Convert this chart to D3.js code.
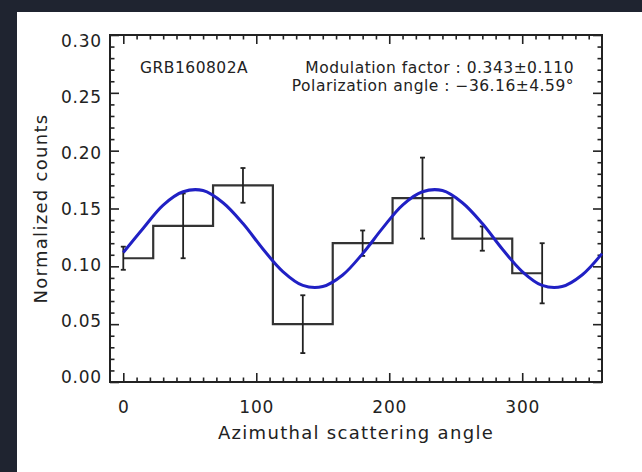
<!DOCTYPE html>
<html>
<head>
<meta charset="utf-8">
<script src="https://cdn.jsdelivr.net/npm/d3@7"></script>
<style>
  html, body { margin: 0; padding: 0; background: #1f2430; }
  svg { display: block; }
  text { font-family: "DejaVu Sans", sans-serif; fill: #222; }
</style>
</head>
<body>
<svg id="chart" width="642" height="472"></svg>
<script>
// ---- data ----
const angles = [0, 45, 90, 135, 180, 225, 270, 315];
const counts = [0.107, 0.135, 0.170, 0.050, 0.120, 0.159, 0.124, 0.094];
const errors = [0.010, 0.028, 0.015, 0.025, 0.011, 0.035, 0.0105, 0.026];

// fitted modulation curve, every 15 degrees
const fitAngles = [0, 15, 30, 45, 60, 75, 90, 105, 120, 135, 150, 165, 180,
                   195, 210, 225, 240, 255, 270, 285, 300, 315, 330, 345, 360];
const fitValues = [0.112, 0.133, 0.153, 0.1645, 0.1655, 0.155, 0.137, 0.115, 0.0955, 0.0835, 0.0825, 0.0925, 0.111,
                   0.133, 0.153, 0.1645, 0.1655, 0.155, 0.137, 0.115, 0.0955, 0.0835, 0.0825, 0.0925, 0.111];

const xMajorTicks = [0, 100, 200, 300];
const yMajorTicks = [0.00, 0.05, 0.10, 0.15, 0.20, 0.25, 0.30];
const sourceName = "GRB160802A";
const modLabel = "Modulation factor : 0.343±0.110";
const angleLabel = "Polarization angle : −36.16±4.59°";
const xTitle = "Azimuthal scattering angle";
const yTitle = "Normalized counts";

// ---- layout ----
const W = 642, H = 472;
const m = { left: 110, right: 602, top: 35, bottom: 382 };

const svg = d3.select("#chart");
svg.append("rect").attr("x", 17).attr("y", 12).attr("width", W - 17).attr("height", H - 12).attr("fill", "#ffffff");

const x = d3.scaleLinear().domain([-10, 360]).range([m.left, m.right]);
const y = d3.scaleLinear().domain([0, 0.30]).range([m.bottom, m.top]);
// tick labels in the reference sit slightly inside the end ticks
const yLabel = d3.scaleLinear().domain([0, 0.30]).range([377, 41]);

const xMinor = d3.range(-10, 361, 10).filter(v => !xMajorTicks.includes(v) && v > -10 && v < 360);
const yMinor = d3.range(1, 30).map(i => i / 100).filter(v => Math.round(v * 100) % 5 !== 0);

function styleAxis(g) {
  g.select(".domain").remove();
  g.selectAll(".tick line").attr("stroke", "#222").attr("stroke-width", 1.6);
  g.selectAll(".tick text")
    .attr("fill", "#222")
    .style("font-family", "DejaVu Sans, sans-serif")
    .style("font-size", "17px")
    .style("letter-spacing", "0.8px");
}

// left axis
svg.append("g").attr("transform", `translate(${m.left},0)`)
  .call(d3.axisLeft(y).tickValues(yMajorTicks).tickSize(-9).tickPadding(8).tickFormat(d3.format(".2f")))
  .call(styleAxis)
  .call(g => g.selectAll(".tick text").attr("y", d => yLabel(d) - y(d)));
svg.append("g").attr("transform", `translate(${m.left},0)`)
  .call(d3.axisLeft(y).tickValues(yMinor).tickSize(-4.5).tickFormat(""))
  .call(styleAxis);
// right axis
svg.append("g").attr("transform", `translate(${m.right},0)`)
  .call(d3.axisRight(y).tickValues(yMajorTicks).tickSize(-9).tickFormat(""))
  .call(styleAxis);
svg.append("g").attr("transform", `translate(${m.right},0)`)
  .call(d3.axisRight(y).tickValues(yMinor).tickSize(-4.5).tickFormat(""))
  .call(styleAxis);
// bottom axis
svg.append("g").attr("transform", `translate(0,${m.bottom})`)
  .call(d3.axisBottom(x).tickValues(xMajorTicks).tickSize(-9).tickPadding(19).tickFormat(d3.format("d")))
  .call(styleAxis);
svg.append("g").attr("transform", `translate(0,${m.bottom})`)
  .call(d3.axisBottom(x).tickValues(xMinor).tickSize(-4.5).tickFormat(""))
  .call(styleAxis);
// top axis
svg.append("g").attr("transform", `translate(0,${m.top})`)
  .call(d3.axisTop(x).tickValues(xMajorTicks).tickSize(-9).tickFormat(""))
  .call(styleAxis);
svg.append("g").attr("transform", `translate(0,${m.top})`)
  .call(d3.axisTop(x).tickValues(xMinor).tickSize(-4.5).tickFormat(""))
  .call(styleAxis);

// frame
svg.append("rect")
  .attr("x", m.left).attr("y", m.top)
  .attr("width", m.right - m.left).attr("height", m.bottom - m.top)
  .attr("fill", "none").attr("stroke", "#222").attr("stroke-width", 2);

// histogram (IDL psym=10 style)
const data = angles.map((a, i) => ({ a, v: counts[i], e: errors[i] }));
svg.append("path")
  .datum(data)
  .attr("fill", "none").attr("stroke", "#333").attr("stroke-width", 2.2)
  .attr("d", d3.line().x(d => x(d.a)).y(d => y(d.v)).curve(d3.curveStep));

// error bars
const eb = svg.append("g").attr("stroke", "#222").attr("stroke-width", 1.8).attr("fill", "none");
data.forEach(d => {
  eb.append("line").attr("x1", x(d.a)).attr("x2", x(d.a)).attr("y1", y(d.v - d.e)).attr("y2", y(d.v + d.e));
  eb.append("line").attr("x1", x(d.a) - 2.5).attr("x2", x(d.a) + 2.5).attr("y1", y(d.v - d.e)).attr("y2", y(d.v - d.e));
  eb.append("line").attr("x1", x(d.a) - 2.5).attr("x2", x(d.a) + 2.5).attr("y1", y(d.v + d.e)).attr("y2", y(d.v + d.e));
});

// fit curve
const fit = fitAngles.map((a, i) => ({ a, v: fitValues[i] }));
svg.append("path")
  .datum(fit)
  .attr("fill", "none").attr("stroke", "#2020c4").attr("stroke-width", 3)
  .attr("d", d3.line().x(d => x(d.a)).y(d => y(d.v)).curve(d3.curveCatmullRom));

// annotations
const ann = { size: "15.5px", ls: "0.5px" };
svg.append("text").attr("x", 140).attr("y", 73)
  .style("font-size", ann.size).style("letter-spacing", ann.ls).text(sourceName);
svg.append("text").attr("x", 574).attr("y", 73).attr("text-anchor", "end")
  .style("font-size", ann.size).style("letter-spacing", ann.ls).text(modLabel);
svg.append("text").attr("x", 574).attr("y", 91).attr("text-anchor", "end")
  .style("font-size", ann.size).style("letter-spacing", ann.ls).text(angleLabel);

// axis titles
svg.append("text").attr("x", (m.left + m.right) / 2).attr("y", 439).attr("text-anchor", "middle")
  .style("font-size", "18px").style("letter-spacing", "1.3px").text(xTitle);
svg.append("text").attr("transform", `translate(46.5,${(m.top + m.bottom) / 2}) rotate(-90)`).attr("text-anchor", "middle")
  .style("font-size", "18px").style("letter-spacing", "1.3px").text(yTitle);
</script>
</body>
</html>
